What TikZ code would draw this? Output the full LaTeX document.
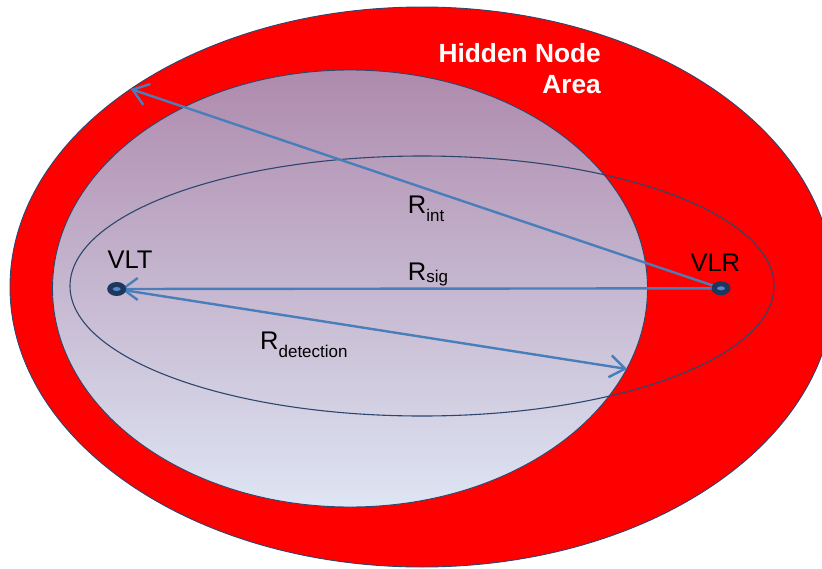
\documentclass[tikz,border=0pt]{standalone}
\usepackage{fontspec}
\setmainfont{Liberation Sans}
\usetikzlibrary{arrows.meta,shapes.geometric}
\pgfdeclarelayer{bg}
\pgfdeclarelayer{mid}
\pgfsetlayers{bg,mid,main}
\definecolor{hiddenred}{RGB}{255,0,0}
\definecolor{edgeblue}{RGB}{45,70,110}
\definecolor{arrowblue}{RGB}{74,126,187}
\definecolor{topshade}{RGB}{174,138,173}
\definecolor{botshade}{RGB}{222,229,243}
\definecolor{dotnavy}{RGB}{30,55,95}
\definecolor{dotspot}{RGB}{85,135,195}
\tikzset{
  outline/.style={draw=edgeblue, line width=0.9pt},
  radius arrow/.style={draw=arrowblue, line width=2.4pt, -{Straight Barb[length=15pt,width=22pt]}},
  dotnode/.style={ellipse, fill=dotnavy, minimum width=19pt, minimum height=14pt, inner sep=0pt},
  lbl/.style={font=\fontsize{25.5}{30}\selectfont, inner sep=0pt, text=black},
}
\newcommand\Rsub[2][8]{R\raisebox{-#1pt}{\fontsize{17}{20}\selectfont #2}}
\begin{document}
\begin{tikzpicture}[x=1pt,y=-1pt]
\useasboundingbox (0,0) rectangle (822,568);
\clip (0,0) rectangle (822,568);
\begin{pgfonlayer}{bg}
  \path[outline, fill=hiddenred] (422,287) ellipse [x radius=412, y radius=280];
  \path[outline, top color=topshade, bottom color=botshade] (350,288.5) ellipse [x radius=297.5, y radius=218.5];
  \path[outline, line width=1.1pt] (422,286) ellipse [x radius=352, y radius=130];
\end{pgfonlayer}
\node[dotnode] (vlt) at (116.7,289) {};
\node[dotnode] (vlr) at (721,288.3) {};
\fill[dotspot] (vlt.center) ellipse [x radius=4, y radius=2];
\fill[dotspot] (vlr.center) ellipse [x radius=4, y radius=2];
\coordinate (intend) at (130.7,89);
\coordinate (detend) at (627,369);
\begin{pgfonlayer}{mid}
  \draw[radius arrow, shorten >=4pt] (vlr.center) -- (vlt.center);
  \draw[radius arrow] (vlr.center) -- (intend);
  \draw[radius arrow, shorten <=4pt] (vlt.center) -- (detend);
\end{pgfonlayer}
\node[lbl, anchor=base west] (rint) at (407.7,213.3) {\Rsub{int}};
\node[lbl, anchor=base west] (rsig) at (407.7,280.7) {\Rsub[2]{sig}};
\node[lbl, anchor=base west] (rdet) at (260,349.3) {\Rsub{detection}};
\node[lbl, anchor=base] (vltlbl) at (130,268) {VLT};
\node[lbl, anchor=base] (vlrlbl) at (715.3,271) {VLR};
\node[font=\bfseries\fontsize{26.3}{31.5}\selectfont, text=white, align=right, anchor=north east, inner sep=0pt] (hidden) at (601,43) {Hidden Node\\Area};
\end{tikzpicture}
\end{document}
